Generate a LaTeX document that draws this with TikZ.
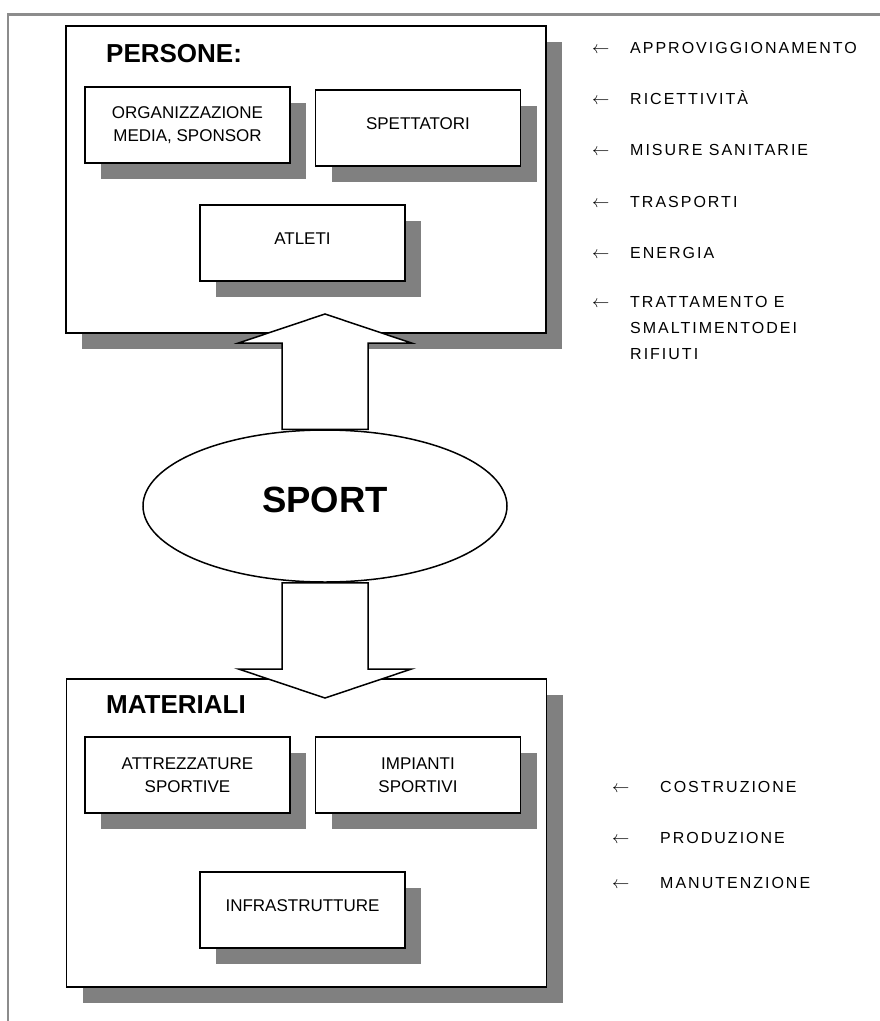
\documentclass[tikz,border=0pt]{standalone}
\usepackage{fontspec}
\setmainfont{Liberation Sans}
\usetikzlibrary{shapes.geometric,shadows,calc}
\definecolor{shadowgray}{gray}{0.5}
\definecolor{framegray}{gray}{0.55}
\newcommand{\boxfont}{\fontsize{17}{23.3}\selectfont}
\newcommand{\titlefont}{\fontsize{26}{30}\selectfont\bfseries}
\newcommand{\listfont}{\fontsize{16}{26}\selectfont\addfontfeature{LetterSpace=12.5}}
\tikzset{
  boxshadow/.style={drop shadow={shadow xshift=16pt, shadow yshift=-16pt, opacity=1, fill=shadowgray}},
  group/.style={draw, line width=1.6pt, fill=white, minimum width=480pt, minimum height=307pt, boxshadow},
  item/.style={draw, line width=1.6pt, fill=white, minimum width=205pt, minimum height=76pt,
    align=center, font=\boxfont, inner sep=0pt, boxshadow},
  oneline/.style={text depth=8pt},
  heading/.style={anchor=base west, inner sep=0pt, font=\titlefont},
  bigarrow/.style={draw, line width=1.5pt, fill=white, line join=miter},
  need/.style={anchor=base west, inner sep=0pt, font=\listfont},
  pointer/.style={anchor=base west, inner sep=0pt, font=\fontsize{16}{20}\selectfont},
}
\begin{document}
\begin{tikzpicture}[x=1pt,y=-1pt]
  \useasboundingbox (0,0) rectangle (880,1021);
  \draw[framegray, line width=2.5pt] (880,14.5) -- (8,14.5) -- (8,1021);

  % persone
  \node[group] (persone) at (306,179.5) {};
  \node[heading] (personetitle) at (106,62) {PERSONE:};
  \node[item] (org) at (187.5,125) {ORGANIZZAZIONE\\MEDIA, SPONSOR};
  \node[item, oneline] (spett) at (418,128) {SPETTATORI};
  \node[item, oneline] (atleti) at (302.5,243) {ATLETI};

  % materiali
  \node[group, minimum height=308pt] (materiali) at (306.5,833) {};
  \node[heading] (materialititle) at (106,713) {MATERIALI};
  \node[item] (attr) at (187.5,775) {ATTREZZATURE\\SPORTIVE};
  \node[item] (impianti) at (418,775) {IMPIANTI\\SPORTIVI};
  \node[item, oneline] (infra) at (302.5,910) {INFRASTRUTTURE};

  % sport
  \node[ellipse, draw, line width=1.5pt, fill=white, minimum width=364pt, minimum height=152pt,
    inner sep=0pt, text depth=12pt, font=\fontsize{36.5}{40}\selectfont\bfseries] (sport) at (325,506) {SPORT};

  \coordinate (uptip) at (325,314);
  \coordinate (downtip) at (325,698);
  \draw[bigarrow] ($(sport.north)+(-43,0)$) |- ($(uptip)+(-86.5,29)$) -- (uptip)
    -- ($(uptip)+(86.5,29)$) -| ($(sport.north)+(43,0)$) -- cycle;
  \draw[bigarrow] ($(sport.south)+(-43,0)$) |- ($(downtip)+(-86.5,-29)$) -- (downtip)
    -- ($(downtip)+(86.5,-29)$) -| ($(sport.south)+(43,0)$) -- cycle;

  % what people need
  \foreach \y/\t [count=\i] in {53/APPROVIGGIONAMENTO, 104/RICETTIVITÀ, 155/MISURE SANITARIE,
      207/TRASPORTI, 258/ENERGIA,
      307/{\vtop{\hbox{TRATTAMENTO E}\hbox{SMALTIMENTODEI}\hbox{RIFIUTI}}}} {
    \node[pointer] (pa\i) at (592,\y) {$\leftarrow$};
    \node[need] (pn\i) at (630,\y) {\t};
  }

  % what materials need
  \foreach \y/\t [count=\i] in {792/COSTRUZIONE, 843/PRODUZIONE, 888/MANUTENZIONE} {
    \node[pointer] (ma\i) at (612,\y) {$\leftarrow$};
    \node[need] (mn\i) at (660,\y) {\t};
  }
\end{tikzpicture}
\end{document}
